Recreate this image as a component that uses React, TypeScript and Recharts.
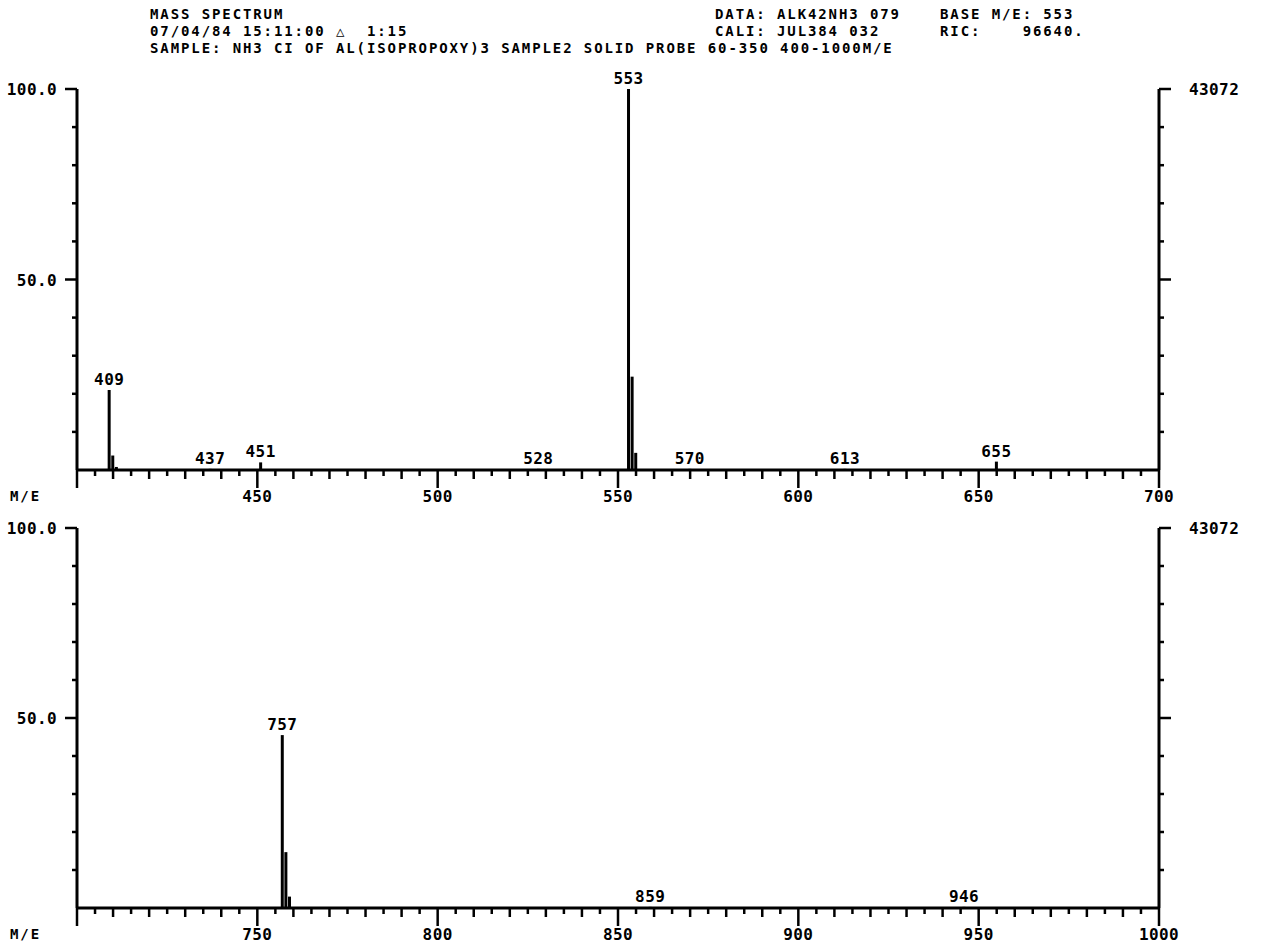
// Espectro de masas (NH3 CI) — dos paneles apilados, m/e 400-700 y 700-1000.
import { ComposedChart, Bar, Line, XAxis, YAxis, LabelList } from 'recharts'

const FONT = '"DejaVu Sans Mono", "Liberation Mono", monospace'

// panel superior
const topMz = [409, 410, 411, 437, 451, 528, 553, 554, 555, 570, 613, 655]
const topPct = [21, 3.8, 0.8, 0.3, 2, 0.3, 100, 24.5, 4.5, 0.3, 0.3, 2.2]
const topLabeled = [409, 437, 451, 528, 553, 570, 613, 655]
const topMajor = [400, 450, 500, 550, 600, 650, 700]

// panel inferior
const bottomMz = [757, 758, 759, 859, 946]
const bottomPct = [45.5, 14.7, 3, 0.3, 0.3]
const bottomLabeled = [757, 859, 946]
const bottomMajor = [700, 750, 800, 850, 900, 950, 1000]

const pctTicks = [0, 10, 20, 30, 40, 50, 60, 70, 80, 90, 100]
const fullScale = '43072'

const txt = { fontFamily: FONT, fontWeight: 700, fontSize: 16, letterSpacing: 0.4, fill: '#000' }

function minorTicks(major: number[]) {
  const out: number[] = []
  for (let v = major[0]; v <= major[major.length - 1]; v += 5) out.push(v)
  return out
}

function buildRows(mz: number[], pct: number[], labeled: number[]) {
  return mz.map((m, i) => ({
    mz: m,
    pct: pct[i],
    label: labeled.includes(m) ? String(m) : '',
  }))
}

const Stick = (p: any) => {
  const cx = p.x + p.width / 2
  return <line x1={cx} x2={cx} y1={p.y} y2={p.y + p.height} stroke="#000" strokeWidth={3} />
}

const PeakLabel = (p: any) => {
  if (!p.value) return null
  return (
    <text x={p.x + p.width / 2} y={p.y - 5} textAnchor="middle" style={txt}>
      {p.value}
    </text>
  )
}

function makeMzTick(min: number) {
  return (p: any) => {
    const v = p.payload.value
    const major = v % 50 === 0
    const len = major ? 18 : v % 10 === 0 ? 9 : 6
    return (
      <g>
        <line x1={p.x} x2={p.x} y1={p.y} y2={p.y + len} stroke="#000" strokeWidth={2.5} />
        {major && v !== min && (
          <text x={p.x} y={p.y + 32} textAnchor="middle" style={txt}>
            {v}
          </text>
        )}
      </g>
    )
  }
}

const LeftTick = (p: any) => {
  const v = p.payload.value
  if (v === 0) return null
  const major = v % 50 === 0
  return (
    <g>
      <line x1={p.x - (major ? 12 : 5)} x2={p.x} y1={p.y} y2={p.y} stroke="#000" strokeWidth={2.5} />
      {major && (
        <text x={p.x - 20} y={p.y + 6} textAnchor="end" style={txt}>
          {v.toFixed(1)}
        </text>
      )}
    </g>
  )
}

const RightTick = (p: any) => {
  const v = p.payload.value
  if (v === 0) return null
  const major = v % 50 === 0
  return (
    <g>
      <line x1={p.x} x2={p.x + (major ? 12 : 5)} y1={p.y} y2={p.y} stroke="#000" strokeWidth={2.5} />
      {v === 100 && (
        <text x={p.x + 30} y={p.y + 6} style={txt}>
          {fullScale}
        </text>
      )}
    </g>
  )
}

function Panel(props: { rows: any[]; major: number[]; top: number; marginTop: number }) {
  const { rows, major, top, marginTop } = props
  const min = major[0]
  const max = major[major.length - 1]
  return (
    <div style={{ position: 'absolute', left: 0, top }}>
      <ComposedChart
        width={1264}
        height={520}
        data={rows}
        margin={{ top: marginTop, right: 0, bottom: 0, left: 0 }}
      >
        <XAxis
          dataKey="mz"
          type="number"
          domain={[min, max]}
          ticks={minorTicks(major)}
          interval={0}
          allowDataOverflow
          height={50}
          tickSize={0}
          tickMargin={0}
          tickLine={false}
          axisLine={{ stroke: '#000', strokeWidth: 3 }}
          tick={makeMzTick(min)}
        />
        <YAxis
          yAxisId="l"
          type="number"
          domain={[0, 100]}
          ticks={pctTicks}
          interval={0}
          width={77}
          tickSize={0}
          tickMargin={0}
          tickLine={false}
          axisLine={{ stroke: '#000', strokeWidth: 3 }}
          tick={LeftTick}
        />
        <YAxis
          yAxisId="r"
          orientation="right"
          type="number"
          domain={[0, 100]}
          allowDataOverflow
          ticks={pctTicks}
          interval={0}
          width={105}
          tickSize={0}
          tickMargin={0}
          tickLine={false}
          axisLine={{ stroke: '#000', strokeWidth: 3 }}
          tick={RightTick}
        />
        <Bar yAxisId="l" dataKey="pct" barSize={3} shape={Stick} isAnimationActive={false}>
          <LabelList dataKey="label" content={PeakLabel} />
        </Bar>
        {/* serie invisible para que el eje derecho (escala absoluta) tenga datos */}
        <Line
          yAxisId="r"
          dataKey="pct"
          stroke="none"
          dot={false}
          activeDot={false}
          legendType="none"
          isAnimationActive={false}
        />
      </ComposedChart>
    </div>
  )
}

export default function App() {
  const topRows = buildRows(topMz, topPct, topLabeled)
  const bottomRows = buildRows(bottomMz, bottomPct, bottomLabeled)
  const head: React.CSSProperties = {
    position: 'absolute',
    fontFamily: FONT,
    fontWeight: 700,
    fontSize: 14,
    letterSpacing: 1.9,
    lineHeight: '17px',
    whiteSpace: 'pre',
    color: '#000',
  }
  return (
    <div style={{ position: 'absolute', left: 0, top: 0, width: 1264, height: 948, background: '#fff' }}>
      <Panel rows={topRows} major={topMajor} top={0} marginTop={89} />
      <Panel rows={bottomRows} major={bottomMajor} top={438} marginTop={90} />

      <div style={{ ...head, left: 150, top: 6 }}>{'MASS SPECTRUM'}</div>
      <div style={{ ...head, left: 150, top: 23 }}>{'07/04/84 15:11:00 △  1:15'}</div>
      <div style={{ ...head, left: 150, top: 40 }}>
        {'SAMPLE: NH3 CI OF AL(ISOPROPOXY)3 SAMPLE2 SOLID PROBE 60-350 400-1000M/E'}
      </div>
      <div style={{ ...head, left: 715, top: 6 }}>{'DATA: ALK42NH3 079'}</div>
      <div style={{ ...head, left: 715, top: 23 }}>{'CALI: JUL384 032'}</div>
      <div style={{ ...head, left: 940, top: 6 }}>{'BASE M/E: 553'}</div>
      <div style={{ ...head, left: 940, top: 23 }}>{'RIC:    96640.'}</div>

      <div style={{ ...head, left: 10, top: 488 }}>M/E</div>
      <div style={{ ...head, left: 10, top: 926 }}>M/E</div>
    </div>
  )
}
